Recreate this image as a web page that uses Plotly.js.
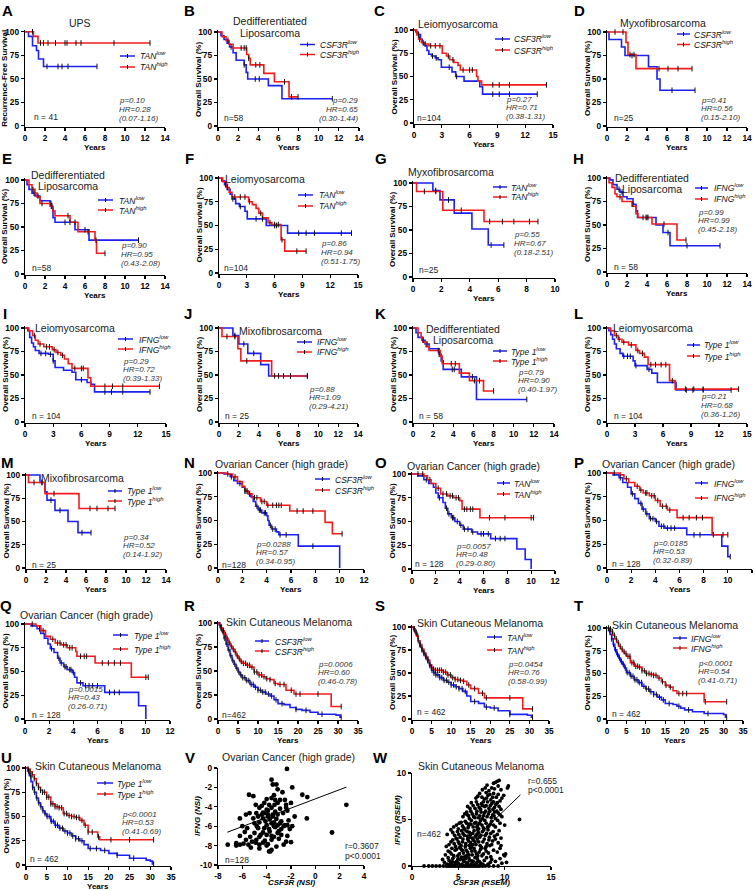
<!DOCTYPE html>
<html><head><meta charset="utf-8">
<script src="https://cdn.plot.ly/plotly-3.0.1.min.js"></script>
<style>body{margin:0;background:#fff}#chart{width:755px;height:890px}</style>
</head><body><div id="chart"></div>
<script>
// ---------------- DATA (Kaplan-Meier steps: time in years, survival %) ----------------
const A_lo_t=[0,0.35,0.75,1.15,1.35,1.85,7.2], A_lo_s=[100,95,85,80,71,63,63], A_lo_c=[2.2,3.3,3.7,4.3,7.2];
const A_hi_t=[0,0.85,1.3,12.5], A_hi_s=[100,95,88,88], A_hi_c=[0.75,1.55,1.85,2.3,3.05,4.0,4.2,5.1,5.6,8.9,12.5];
const B_lo_t=[0,0.3,0.6,0.9,1.15,1.5,1.8,2.6,2.8,2.95,5.0,6.35,11.35], B_lo_s=[100,96,92,88,84,78,70,65,57,50,43,29,29], B_lo_c=[1.3,2.6,3.7,4.1,11.35];
const B_hi_t=[0,0.4,0.8,1.1,1.5,2.85,3.05,3.2,4.55,5.6,7.05,7.95], B_hi_s=[100,95,91,87,83,76,72,65,56,47,31,31], B_hi_c=[1.0,2.3,2.6,2.8,3.05,3.75,4.15,6.6,7.3,7.95];
const C_lo_t=[0,0.2,0.4,0.7,0.9,1.2,1.4,1.6,1.9,2.3,2.6,2.95,4.1,4.5,5.4,7.1,7.4,13.3], C_lo_s=[100,98,95,90,86,83,78,74,72,70,68,60,55,50,45,39,31,31], C_lo_c=[0.5,1.0,2.0,2.4,3.8,4.6,8.5,9.2,10.3,13.3];
const C_hi_t=[0,0.3,0.5,0.8,1.0,1.6,3.05,3.5,3.85,4.3,4.75,5.0,6.75,6.9,7.3,14.3], C_hi_s=[100,95,90,87,85,83,75,72,68,65,62,57,50,45,41,41], C_hi_c=[0.6,1.2,1.8,2.3,2.8,3.7,4.2,5.3,6.0,6.3,8.5,9.2,10.3,14.3];
const D_lo_t=[0,0.2,1.45,1.8,4.15,5.0,5.3,8.8], D_lo_s=[100,92,84,75,63,50,38,38], D_lo_c=[2.5,6.5,8.8];
const D_hi_t=[0,1.9,2.1,2.9,8.5], D_hi_s=[100,89,76,61,61], D_hi_c=[0.8,1.6,2.3,2.7,5.2,6.1,7.1,8.5];
const E_lo_t=[0,0.2,0.4,0.7,1.0,1.5,2.5,2.65,2.8,3.0,5.0,6.4,11.35], E_lo_s=[100,95,90,86,83,78,75,70,60,55,47,36,36], E_lo_c=[0.9,1.3,2.6,4.0,4.5,6.0,7.1,11.35];
const E_hi_t=[0,0.4,0.7,1.0,1.2,1.5,2.5,2.8,3.0,4.5,5.3,7.0,7.15,8.0], E_hi_s=[100,95,90,86,82,75,72,67,62,55,45,36,22,22], E_hi_c=[0.8,1.7,2.7,4.3,5.0,6.3,8.0];
const F_lo_t=[0,0.3,0.6,0.9,1.2,1.4,1.8,2.2,2.8,3.05,5.1,7.4,14.3], F_lo_s=[100,97,93,88,83,78,73,70,65,57,50,42,42], F_lo_c=[0.7,1.5,2.3,4.0,4.7,6.0,6.2,8.6,9.4,10.3,13.2,14.3];
const F_hi_t=[0,0.4,0.8,1.1,1.4,3.2,3.6,4.0,4.3,4.7,5.3,5.7,6.7,7.1,9.4], F_hi_s=[100,96,90,85,80,75,72,68,63,58,53,51,35,23,23], F_hi_c=[0.9,1.7,2.3,2.8,3.3,4.5,5.5,6.0,6.4,6.8,8.4,9.4];
const G_lo_t=[0,1.4,1.9,2.9,4.15,5.3,6.4], G_lo_s=[100,92,82,68,51,34,34], G_lo_c=[1.6,2.5,5.5,6.4];
const G_hi_t=[0,0.25,2.1,5.0,8.8], G_hi_s=[100,91,71,59,59], G_hi_c=[0.8,1.6,3.4,5.4,6.3,7.1,8.2,8.8];
const H_lo_t=[0,0.3,0.6,1.0,1.3,1.6,2.0,2.6,2.9,3.05,4.9,5.6,6.3,11.3], H_lo_s=[100,98,93,88,85,80,78,72,65,58,50,42,28,28], H_lo_c=[1.2,1.5,2.6,3.9,4.1,6.1,8.0,11.3];
const H_hi_t=[0,0.2,0.5,0.8,1.0,1.5,2.5,2.9,3.1,4.5,7.0,7.9], H_hi_s=[100,95,90,83,80,75,70,62,58,51,34,34], H_hi_c=[1.3,3.6,4.0,5.7,7.9];
const I_lo_t=[0,0.3,0.5,0.7,0.9,1.1,1.5,2.5,3.0,3.2,4.1,5.0,5.4,6.6,7.0,7.4,13.3], I_lo_s=[100,97,90,84,80,76,73,72,65,58,55,53,45,42,40,32,32], I_lo_c=[1.7,2.2,2.7,3.0,6.0,8.5,9.2,10.4,13.3];
const I_hi_t=[0,0.4,0.8,1.1,1.4,2.0,2.9,3.3,3.8,4.2,4.6,5.0,6.7,7.0,14.3], I_hi_s=[100,97,92,87,83,80,77,74,71,67,62,57,47,38,38], I_hi_c=[1.0,1.6,2.3,2.6,3.1,3.5,4.0,5.3,6.0,6.2,8.5,9.3,10.4,14.3];
const J_lo_t=[0,1.4,2.0,2.9,4.2,5.0,8.9], J_lo_s=[100,92,83,73,61,49,49], J_lo_c=[1.6,2.5,3.5,5.6,6.5,7.2,8.9];
const J_hi_t=[0,0.3,1.9,2.2,5.3,8.9], J_hi_s=[100,91,78,65,49,49], J_hi_c=[0.8,1.6,2.8,6.0,7.2,8.9];
const K_lo_t=[0,0.3,0.5,0.9,1.2,1.6,2.6,2.8,3.0,4.8,6.3,11.3], K_lo_s=[100,95,90,87,83,78,72,65,56,48,24,24], K_lo_c=[1.0,1.4,2.6,3.9,4.1,5.9,11.3];
const K_hi_t=[0,0.5,0.8,1.0,1.3,1.6,2.7,2.9,4.6,5.6,7.0,8.0], K_hi_s=[100,95,90,85,80,76,70,62,52,44,33,33], K_hi_c=[2.5,3.8,4.2,6.1,6.6,8.0];
const L_lo_t=[0,0.2,0.4,0.6,0.8,1.0,1.4,1.7,2.8,3.0,4.3,4.8,5.4,7.4,13.3], L_lo_s=[100,97,93,88,83,78,73,70,65,60,56,52,42,34,34], L_lo_c=[1.8,2.2,2.5,3.1,4.5,8.5,9.2,10.3,13.3];
const L_hi_t=[0,0.4,0.8,1.2,1.6,2.3,3.1,3.5,4.0,4.4,6.7,7.3,14.1], L_hi_s=[100,97,92,88,85,82,76,73,69,61,44,35,35], L_hi_c=[1.0,1.3,1.8,2.6,3.3,3.8,4.7,5.2,5.8,6.3,7.0,8.4,9.3,10.3,14.1];
const M_lo_t=[0,1.4,1.9,2.1,2.9,4.2,5.2,6.5], M_lo_s=[100,92,82,73,62,50,38,38], M_lo_c=[1.6,2.5,3.4,5.6,6.5];
const M_hi_t=[0,0.25,1.9,5.3,8.9], M_hi_s=[100,92,80,64,64], M_hi_c=[0.8,1.6,2.8,6.4,7.1,8.2,8.9];
const N_lo_t=[0,0.5,1.0,1.3,1.6,2.0,2.2,2.5,2.7,2.9,3.1,3.3,3.6,4.0,4.1,4.2,4.4,4.8,5.0,6.6,10.0], N_lo_s=[100,99,96,92,89,85,81,78,75,70,65,61,58,55,50,45,41,38,35,23,0], N_lo_c=[1.1,1.8,2.2,2.4,2.6,3.2,3.4,3.5,3.8,3.9,4.3,4.5,4.7,5.1,5.6,7.8];
const N_hi_t=[0,0.7,1.2,1.6,2.0,2.2,2.5,2.8,3.5,4.0,5.9,8.8,9.4,10.2], N_hi_s=[100,99,96,91,86,81,78,74,70,66,60,48,36,36], N_hi_c=[0.8,1.4,2.3,2.6,3.0,3.2,3.6,3.8,4.1,4.5,4.8,5.0,5.2,6.5,7.0,7.8,10.2];
const O_lo_t=[0,0.5,1.0,1.4,1.8,2.0,2.2,2.6,2.8,3.0,3.3,3.6,4.0,4.3,5.0,5.5,6.6,8.8,9.5,10.0], O_lo_s=[100,98,94,90,86,80,75,70,64,58,54,50,46,42,39,37,32,21,10,0], O_lo_c=[1.2,2.3,2.9,3.1,3.4,3.5,3.8,4.1,4.4,4.7,5.1,5.8,6.0,6.4,7.0,7.4,7.8];
const O_hi_t=[0,1.0,1.3,1.6,2.0,2.4,3.0,3.5,4.0,4.2,5.7,10.2], O_hi_s=[100,98,94,90,85,79,77,75,72,63,54,54], O_hi_c=[0.5,0.9,1.5,2.2,2.6,2.9,3.2,3.4,3.7,3.9,4.4,4.6,4.9,5.1,6.5,7.8,10.0,10.2];
const P_lo_t=[0,0.5,1.0,1.3,1.7,2.0,2.3,2.6,2.9,3.2,3.5,4.0,4.3,4.8,6.6,9.5,10.0,10.2], P_lo_s=[100,98,95,90,85,78,73,68,62,57,52,49,44,42,35,23,12,12], P_lo_c=[1.1,2.1,2.8,3.0,3.3,3.6,3.8,4.1,4.5,4.7,5.0,5.3,5.6,7.2,7.7,8.8,10.2];
const P_hi_t=[0,1.1,1.4,1.8,2.3,2.7,3.0,3.5,4.0,4.4,5.0,5.8,8.7,10.0], P_hi_s=[100,98,94,90,86,82,79,76,71,65,61,53,35,35], P_hi_c=[0.6,1.6,2.5,2.8,3.2,3.3,3.7,3.9,4.2,4.6,4.9,5.2,6.3,6.8,7.4,7.9,9.6,10.0];
const Q_lo_t=[0,0.5,1.0,1.3,1.6,1.9,2.1,2.4,2.7,2.9,3.2,3.5,3.9,4.1,4.3,4.8,6.6,9.4,10.0], Q_lo_s=[100,98,95,90,85,79,74,70,64,59,55,52,49,44,38,35,28,14,0], Q_lo_c=[1.2,2.2,2.8,3.0,3.3,3.4,3.7,3.8,4.0,4.6,5.0,5.3,5.6,6.0,7.0,7.4,7.8];
const Q_hi_t=[0,0.9,1.3,1.7,2.1,2.5,3.0,3.5,4.2,4.3,5.8,8.8,10.2], Q_hi_s=[100,98,93,87,84,80,78,75,71,66,59,44,44], Q_hi_c=[0.6,1.5,2.3,2.7,2.9,3.2,3.4,3.7,3.9,4.6,4.9,5.1,6.4,6.9,7.4,7.9,10.0,10.2];
const R_lo_t=[0,0.3,0.6,1,1.5,2,2.5,3,3.5,4,4.5,5,5.5,6,7,8,9,10,11,12,13,14,15,16.5,18,19.5,21,23,25,29.5,30.5,30.8], R_lo_s=[100,98,95,91,84,78,72,66,61,57,53,49,46,43,40,36,33,30,28,26,24,20,16,15,12,10,9,7,5,4,2,2];
const R_lo_c=[0.7,1.2,1.7,2.2,2.7,3.2,3.7,4.2,4.7,5.2,5.7,6.2,6.7,7.2,7.7,8.3,8.8,9.4,10,10.6,11.2,11.8,12.6,13.4,14.5,16,19.5,22,26,30.8];
const R_hi_t=[0,0.4,0.8,1.2,1.6,2,2.5,3,3.5,4,4.5,5,5.5,6,7,8,9,10,11,12,13,14,15,17,19,28.3,30.8], R_hi_s=[100,98,95,92,88,84,80,76,73,70,66,63,60,58,56,54,49,46,44,42,41,37,36,30,26,13,13];
const R_hi_c=[0.5,0.9,1.4,1.9,2.3,2.8,3.3,3.8,4.3,4.8,5.3,5.8,6.4,6.9,7.4,7.9,8.5,9.1,9.7,10.3,10.9,11.5,12.2,13,14.3,15.5,16.5,18.3,19.5,20.5,25,30.8];
const S_lo_t=[0,0.4,0.8,1.2,1.6,2,2.5,3,3.5,4,4.5,5,5.5,6,7,8,9,10,11,12,13,14,15,17,18.5,20,22,25,29.5,30.5,30.8], S_lo_s=[100,98,94,90,85,80,75,71,67,63,58,53,50,48,45,42,40,37,35,33,30,25,19,17,13,12,9,5,4,2,2];
const S_lo_c=[0.6,1.1,1.6,2.1,2.6,3.1,3.6,4.1,4.6,5.1,5.6,6.1,6.6,7.1,7.6,8.2,8.8,9.4,10,10.6,11.3,12,12.8,13.6,16,19,21,25,30.8];
const S_hi_t=[0,0.4,0.8,1.2,1.6,2,2.5,3,3.5,4,4.5,5,5.5,6,7,8,9,10,11,12,13,14,15,17,18.5,28.3,30.8], S_hi_s=[100,98,94,90,85,81,76,72,68,64,59,56,54,53,53,51,48,45,43,42,41,37,33,28,23,11,11];
const S_hi_c=[0.5,1.0,1.5,2.0,2.5,3.0,3.5,4.0,4.5,5.0,5.5,6.0,6.5,7.0,7.5,8.0,8.6,9.2,9.8,10.4,11,11.7,12.4,13.2,14.5,16,18,19,25,30.8];
const T_lo_t=[0,0.4,0.8,1.2,1.6,2,2.5,3,3.5,4,4.5,5,6,7,8,9,10,11,12,13,14,15,17,18,19,20,22,25,30,30.5,30.8], T_lo_s=[100,97,93,88,82,76,71,67,63,60,56,51,47,43,40,36,33,30,27,24,21,17,16,14,12,10,8,6,5,2,2];
const T_lo_c=[0.7,1.2,1.7,2.2,2.7,3.2,3.7,4.2,4.7,5.2,5.7,6.2,6.7,7.2,7.7,8.3,8.9,9.5,10.1,10.7,11.3,12,12.7,13.5,14.5,16,18.5,21,26,30.8];
const T_hi_t=[0,0.5,1,1.5,2,2.5,3,3.5,4,4.5,5,6,7,8,9,10,11,12,13,14,15,16,17,18,25,30.8], T_hi_s=[100,99,96,92,88,84,80,77,74,72,69,62,58,57,53,50,49,48,45,41,37,35,31,28,19,19];
const T_hi_c=[0.4,0.9,1.4,1.9,2.4,2.9,3.4,3.9,4.4,4.9,5.4,5.9,6.4,6.9,7.4,7.9,8.4,9,9.6,10.2,10.8,11.4,12,12.6,13.4,14.3,15.2,16.3,18.5,19.5,20.5,25.3,30.8];
const U_lo_t=[0,0.4,0.8,1.2,1.6,2,2.5,3,3.5,4,4.5,5,6,7,8,9,10,11,12,13,14,15,18,20,22,25,29,30,30.5,30.8], U_lo_s=[100,97,92,86,80,75,69,64,60,56,53,50,45,41,38,35,33,30,27,25,21,17,15,12,10,7,5,4,1,1];
const U_lo_c=[0.6,1.1,1.6,2.1,2.6,3.1,3.6,4.1,4.6,5.1,5.6,6.1,6.6,7.1,7.6,8.2,8.8,9.4,10,10.6,11.3,12,12.7,13.5,15.5,17,19,22,26,30.8];
const U_hi_t=[0,0.5,1,1.5,2,2.5,3,3.5,4,5,6,7,8,9,10,11,12,13,14,15,17.3,17.8,30.8], U_hi_s=[100,99,96,93,89,84,80,77,75,70,63,60,59,53,51,50,49,46,41,34,29,26,26];
const U_hi_c=[0.5,1.0,1.5,2.0,2.5,3.0,3.5,4.0,4.5,5.0,5.5,6.0,6.5,7.0,7.5,8.0,8.6,9.2,9.8,10.4,11,11.6,12.2,12.8,13.5,14.3,15,16,17.5,20.5,25,30.8];

// Scatter V: CSF3R (NSI) vs IFNG (NSI), ovarian, n=128
const V_x=[-2.33,-3.6,-3.5,-3.2,-1.9,-3.1,-5.45,-5.1,-1.07,-0.66,
 -3.6,-2.9,-2.5,2.55,-4.2,-3.8,-3.35,-3.1,-2.4,-2.4,
 -4.6,-4.0,-3.6,-4.2,-4.85,-5.4,-4.4,-3.9,-3.5,-3.1,
 -2.65,-0.7,-6.2,-5.1,-4.3,-3.75,-3.2,-2.8,-5.0,-4.6,
 -4.0,-3.6,-3.1,-2.5,-2.3,-4.7,-4.2,-3.3,-2.8,-2.1,
 -5.8,-5.0,-4.3,-3.75,-3.1,1.37,-6.2,-5.35,-4.6,-4.0,
 -3.4,-2.8,-2.3,-5.7,-4.85,-4.15,-3.6,-2.4,-2.0,-6.5,
 -7.2,-6.2,-5.5,-4.6,-3.9,-3.2,-3.6,-3.7,-4.6,-5.3,
 -4.4,-3.9,-3.3,-4.7,-3.5,-2.9,-4.1,-3.4,-4.8,-3.8,
 -2.6,-5.6,-4.5,-3.6,-3.0,-5.2,-4.3,-3.9,-2.3,-2.0,
 -2.7,-3.4,-4.0,-4.9,-5.7,-6.0,-1.9,-1.7,-2.2,-3.3,
 -4.3,-3.0,-2.6,-4.0,-4.9,-6.5,-5.9,-3.8,-3.4,-2.9];
const V_y=[-0.1,-1.2,-1.7,-1.7,-2.0,-2.2,-2.76,-2.9,-2.76,-3.0,
 -3.1,-3.3,-3.3,-3.8,-3.6,-3.8,-3.8,-3.6,-3.8,-4.1,
 -4.1,-4.3,-4.1,-4.65,-4.65,-4.65,-4.8,-4.8,-4.8,-4.8,
 -4.65,-5.2,-5.2,-5.2,-5.2,-5.3,-5.25,-5.5,-5.7,-5.6,
 -5.9,-5.7,-5.9,-5.9,-5.9,-6.2,-6.2,-6.1,-6.3,-6.3,
 -6.6,-6.7,-6.65,-6.55,-6.7,-6.65,-7.0,-7.1,-7.1,-6.9,
 -7.1,-6.9,-7.0,-7.4,-7.4,-7.5,-7.4,-7.6,-7.65,-7.75,
 -7.9,-7.9,-7.9,-7.9,-7.85,-8.1,-8.45,-8.6,-8.3,-8.2,
 -3.9,-4.4,-4.5,-5.0,-5.0,-4.2,-5.5,-5.6,-6.0,-6.3,
 -6.0,-6.2,-6.9,-7.0,-7.3,-7.6,-7.7,-5.0,-4.4,-3.6,
 -2.5,-2.8,-3.2,-3.8,-4.8,-6.0,-6.0,-5.0,-5.4,-3.3,
 -4.6,-6.5,-7.9,-8.0,-7.7,-8.0,-7.8,-8.6,-6.0,-5.7];
const V_fitX=[-7.23,2.55], V_fitY=[-6.62,-1.97];

// Scatter W: CSF3R (RSEM) vs IFNG (RSEM), melanoma, n=462
const W_x=[1.3,1.8,2.2,2.6,3.0,3.4,3.7,3.9,4.1,4.3,4.5,4.7,4.9,5.1,5.3,5.5,5.7,5.9,6.1,6.3,6.5,6.7,6.9,7.1,7.3,7.6,7.9,8.3,8.8,9.3,
 3.5,3.8,4.0,4.2,4.4,4.6,4.8,5.0,5.2,5.4,5.6,5.8,6.0,6.2,6.4,6.6,6.8,7.0,7.4,7.8,8.2,9.0,9.5,10.2,8.6,
 3.6,4.1,4.5,4.8,5.1,5.4,5.7,6.0,6.3,6.5,6.8,7.1,7.4,7.7,8.0,8.5,9.2,9.9,10.1,5.9,4.3,
 4.0,4.4,4.7,5.0,5.3,5.5,5.8,6.1,6.4,6.6,6.9,7.2,7.5,7.8,8.1,8.4,8.7,9.3,5.1,6.2,
 4.2,4.6,4.9,5.2,5.5,5.7,6.0,6.2,6.5,6.7,7.0,7.3,7.6,7.9,8.2,8.5,8.9,9.4,9.6,6.3,7.1,
 4.8,5.3,5.6,5.9,6.1,6.4,6.6,6.9,7.1,7.4,7.7,8.0,8.3,8.6,9.0,9.5,10.0,5.0,7.2,6.2,
 5.5,5.9,6.2,6.5,6.8,7.0,7.3,7.6,7.8,8.1,8.4,8.7,9.0,9.3,9.7,11.6,6.0,8.9,
 6.0,6.4,6.8,7.1,7.4,7.7,8.0,8.3,8.6,8.9,9.2,9.6,7.6,8.8,
 6.9,7.3,7.8,8.2,8.5,8.8,9.1,9.5,9.9,8.0,
 7.6,8.1,8.6,9.0,9.3,9.4,10.3,8.8];
const W_y=[0,0,0,0,0,0,0,0,0,0,0,0,0,0,0,0,0,0,0,0,0,0,0,0,0,0,0,0,0,0,
 0.4,0.2,0.6,0.3,0.8,0.1,0.5,0.3,0.7,0.2,0.5,0.8,0.3,0.6,0.2,0.5,0.9,0.4,0.3,0.6,0.2,0.5,0.8,0.4,0.7,
 1.2,1.5,1.1,1.8,1.3,1.7,1.0,1.5,1.9,1.2,1.6,1.1,1.8,1.3,1.6,1.0,1.5,1.2,1.3,1.1,1.9,
 2.3,2.8,2.1,2.6,2.2,2.9,2.4,2.7,2.1,2.8,2.3,2.6,2.0,2.9,2.4,2.2,2.7,2.5,2.4,2.2,
 3.9,3.3,3.7,3.1,3.5,3.9,3.2,3.6,3.0,3.8,3.4,3.1,3.7,3.3,3.9,3.5,3.2,3.8,3.0,3.4,3.9,
 4.4,4.7,4.1,4.6,4.3,4.9,4.2,4.7,4.4,4.9,4.1,4.6,4.3,4.8,4.2,4.6,4.4,4.0,4.0,4.5,
 5.3,5.8,5.1,5.6,5.2,5.9,5.4,5.1,5.7,5.3,5.9,5.5,5.1,5.7,5.3,5.0,5.5,5.8,
 6.4,6.8,6.2,6.6,6.1,6.9,6.5,6.2,6.7,6.3,6.8,6.1,6.5,6.9,
 7.3,7.8,7.2,7.6,7.1,7.8,7.4,7.0,7.6,7.9,
 8.2,8.7,8.4,9.0,8.6,9.2,8.4,8.9];
const W_x2=[4.05,4.35,4.65,4.95,5.25,5.55,5.85,6.15,6.45,6.75,7.05,7.25,7.65,8.05,8.45,3.3,3.9,5.35,6.95,9.7,
 3.9,4.25,4.65,4.95,5.25,5.55,5.85,6.15,6.45,6.7,6.95,7.25,7.55,7.9,8.25,8.8,9.5,10.0,
 4.2,4.55,4.85,5.15,5.45,5.75,6.0,6.3,6.55,6.8,7.05,7.35,7.65,8.0,8.3,8.6,9.0,9.6,3.7,
 4.4,4.75,5.05,5.35,5.65,5.95,6.25,6.55,6.85,7.15,7.45,7.75,8.05,8.35,8.75,9.2,3.8,
 5.1,5.45,5.75,6.05,6.35,6.75,7.0,7.3,7.55,7.85,8.15,8.45,8.8,9.25,4.5,
 5.7,6.1,6.35,6.65,6.95,7.2,7.45,7.7,7.95,8.25,8.55,8.85,9.15,9.5,
 6.25,6.6,6.95,7.25,7.5,7.85,8.15,8.45,8.75,9.05,9.4,7.1,7.55,8.05,8.4,8.7,9.3,9.7,
 8.3,8.9,9.6,10.4,7.9,9.2];
const W_y2=[0.15,0.45,0.35,0.75,0.1,0.65,0.35,0.85,0.55,0.15,0.75,0.5,0.2,0.9,0.4,0.7,0.9,0.95,0.95,0.3,
 1.6,1.3,1.7,1.1,1.9,1.4,1.7,1.2,1.6,1.9,1.3,1.5,1.1,1.9,1.4,1.7,1.9,1.1,
 2.6,2.4,2.9,2.0,2.6,2.1,2.9,2.5,2.3,2.6,2.9,2.2,2.6,2.1,2.8,2.3,2.9,2.2,2.1,
 3.6,3.0,3.4,3.8,3.3,3.7,3.1,3.5,3.2,3.6,3.3,3.9,3.5,3.1,3.7,3.4,3.4,
 4.6,4.3,4.8,4.1,4.5,4.6,4.2,4.6,4.4,4.9,4.2,4.5,4.4,4.9,4.2,
 5.6,5.4,5.9,5.3,5.6,5.2,5.8,5.4,5.9,5.6,5.2,5.4,5.9,5.5,
 6.2,6.5,6.9,6.3,6.7,6.4,6.9,6.5,6.1,6.6,6.4,7.5,7.4,7.3,7.7,7.4,7.7,7.3,
 8.1,8.3,8.2,8.6,8.4,9.1];
const W_fitX=[3.7,11.7], W_fitY=[0,7.65];

// ---------------- TEXT ----------------
const T_SARC_DD='Dedifferentiated<br>Liposarcoma', T_LEIO='Leiomyosarcoma', T_MYXO='Myxofibrosarcoma', T_MIXO='Mixofibrosarcoma';
const T_OVA='Ovarian Cancer (high grade)', T_SKCM='Skin Cutaneous Melanoma';
const A_stats=['p=0.10','HR=0.28','(0.07-1.16)'], B_stats=['p=0.29','HR=0.65','(0.30-1.44)'], C_stats=['p=0.27','HR=0.71','(0.38-1.31)'];
const D_stats=['p=0.41','HR=0.56','(0.15-2.10)'], E_stats=['p=0.90','HR=0.95','(0.43-2.08)'], F_stats=['p=0.86','HR=0.94','(0.51-1.75)'];
const G_stats=['p=0.55','HR=0.67','(0.18-2.51)'], H_stats=['p=0.99','HR=0.99','(0.45-2.18)'], I_stats=['p=0.29','HR=0.72','(0.39-1.33)'];
const J_stats=['p=0.88','HR=1.09','(0.29-4.21)'], K_stats=['p=0.79','HR=0.90','(0.40-1.97)'], L_stats=['p=0.21','HR=0.68','(0.36-1.26)'];
const M_stats=['p=0.34','HR=0.52','(0.14-1.92)'], N_stats=['p=0.0288','HR=0.57','(0.34-0.95)'], O_stats=['p=0.0057','HR=0.48','(0.29-0.80)'];
const P_stats=['p=0.0185','HR=0.53','(0.32-0.89)'], Q_stats=['p=0.0015','HR=0.43','(0.26-0.71)'], R_stats=['p=0.0006','HR=0.60','(0.46-0.78)'];
const S_stats=['p=0.0454','HR=0.76','(0.58-0.99)'], T_stats=['p<0.0001','HR=0.54','(0.41-0.71)'], U_stats=['p<0.0001','HR=0.53','(0.41-0.69)'];
const V_stats=['r=0.3607','p<0.0001'], W_stats=['r=0.655','p<0.0001'];

// ---------------- LAYOUT CONFIG ----------------
const FONT='"Liberation Sans", Arial, sans-serif';
const WID=755, HEI=890;
const BLUE='#1c22f0', RED='#f01c1c';
const KM=[
 {L:'A',g:[25,165,31.7,125.7],xm:14,dx:2,lo:[A_lo_t,A_lo_s,A_lo_c],hi:[A_hi_t,A_hi_s,A_hi_c],gene:'TAN',yt:'Recurrence-Free Survival',ti:['UPS',80,23],leg:[120,135,56,67,138],st:[A_stats,118,100.5,'left'],n:['n = 41',32,117],lp:[7,10]},
 {L:'B',g:[218,359,32,126],xm:14,dx:2,lo:[B_lo_t,B_lo_s,B_lo_c],hi:[B_hi_t,B_hi_s,B_hi_c],gene:'CSF3R',ti:[T_SARC_DD,270,27],leg:[300,315,44.5,54.5,318],st:[B_stats,359,100.5,'right'],n:['n=58',222,118],lp:[189,10]},
 {L:'C',g:[414,553,30,123],xm:15,dx:3,lo:[C_lo_t,C_lo_s,C_lo_c],hi:[C_hi_t,C_hi_s,C_hi_c],gene:'CSF3R',ti:[T_LEIO,458,24],leg:[495,510,39,50,512],st:[C_stats,505,99,'left'],n:['n=104',415,118],lp:[379,10]},
 {L:'D',g:[607,747,32,126],xm:14,dx:2,lo:[D_lo_t,D_lo_s,D_lo_c],hi:[D_hi_t,D_hi_s,D_hi_c],gene:'CSF3R',ti:[T_MYXO,663,23],leg:[677,690,34,44.5,692],st:[D_stats,700,100,'left'],n:['n=25',612,118],lp:[579,10]},
 {L:'E',g:[25,165,180,274],xm:14,dx:2,lo:[E_lo_t,E_lo_s,E_lo_c],hi:[E_hi_t,E_hi_s,E_hi_c],gene:'TAN',ti:[T_SARC_DD,68,180.5],leg:[98,113,200,210,117],st:[E_stats,120,245.5,'left'],n:['n=58',30,268],lp:[7,158]},
 {L:'F',g:[219,358,178,273],xm:15,dx:3,lo:[F_lo_t,F_lo_s,F_lo_c],hi:[F_hi_t,F_hi_s,F_hi_c],gene:'TAN',ti:[T_LEIO,265,179],leg:[298,313,195,206,317],st:[F_stats,320,244,'left'],n:['n=104',222,268],lp:[189,158]},
 {L:'G',g:[413,555,183,277],xm:10,dx:2,lo:[G_lo_t,G_lo_s,G_lo_c],hi:[G_hi_t,G_hi_s,G_hi_c],gene:'TAN',ti:[T_MYXO,451,172],leg:[493,507,187,197,509],st:[G_stats,513,235,'left'],n:['n=25',417,270],lp:[381,158]},
 {L:'H',g:[607,747,178,272],xm:14,dx:2,lo:[H_lo_t,H_lo_s,H_lo_c],hi:[H_hi_t,H_hi_s,H_hi_c],gene:'IFNG',ti:[T_SARC_DD,652,183.5],leg:[695,708,188,199,712],st:[H_stats,697,212,'left'],n:['n = 58',612,267],lp:[578,158]},
 {L:'I',g:[25,166,328,422],xm:15,dx:3,lo:[I_lo_t,I_lo_s,I_lo_c],hi:[I_hi_t,I_hi_s,I_hi_c],gene:'IFNG',ti:[T_LEIO,75,328],leg:[118,133,339,349,137],st:[I_stats,122,361,'left'],n:['n = 104',30,416],lp:[5,314]},
 {L:'J',g:[219,358,328,422],xm:14,dx:2,lo:[J_lo_t,J_lo_s,J_lo_c],hi:[J_hi_t,J_hi_s,J_hi_c],gene:'IFNG',ti:[T_MIXO,280,331],leg:[297,312,342,352,315],st:[J_stats,308,389,'left'],n:['n = 25',223,416],lp:[188,314]},
 {L:'K',g:[413,554,328,422],xm:14,dx:2,lo:[K_lo_t,K_lo_s,K_lo_c],hi:[K_hi_t,K_hi_s,K_hi_c],gene:'Type 1',ti:[T_SARC_DD,463,334.5],leg:[493,507,351,361,509],st:[K_stats,517,372,'left'],n:['n = 58',417,416],lp:[380,314]},
 {L:'L',g:[607,747,328,422],xm:15,dx:3,lo:[L_lo_t,L_lo_s,L_lo_c],hi:[L_hi_t,L_hi_s,L_hi_c],gene:'Type 1',ti:[T_LEIO,653,328],leg:[687,700,345,356,702],st:[L_stats,700,397,'left'],n:['n = 104',612,416],lp:[578,314]},
 {L:'M',g:[26,166,475,568],xm:14,dx:2,lo:[M_lo_t,M_lo_s,M_lo_c],hi:[M_hi_t,M_hi_s,M_hi_c],gene:'Type 1',ti:[T_MIXO,82,478],leg:[108,122,491,501,125],st:[M_stats,122,537,'left'],n:['n = 25',30,565],lp:[7,463]},
 {L:'N',g:[218,364,473,568],xm:12,dx:2,lo:[N_lo_t,N_lo_s,N_lo_c],hi:[N_hi_t,N_hi_s,N_hi_c],gene:'CSF3R',ti:[T_OVA,281,464],leg:[315,330,479,490,333],st:[N_stats,255,544,'left'],n:['n=128',220,565],lp:[189,463]},
 {L:'O',g:[412,555,474,569],xm:12,dx:2,lo:[O_lo_t,O_lo_s,O_lo_c],hi:[O_hi_t,O_hi_s,O_hi_c],gene:'TAN',ti:[T_OVA,473,466],leg:[497,510,483,494,512],st:[O_stats,455,546,'left'],n:['n = 128',413,564],lp:[381,463]},
 {L:'P',g:[607,752,473,568],xm:12,dx:2,lo:[P_lo_t,P_lo_s,P_lo_c],hi:[P_hi_t,P_hi_s,P_hi_c],gene:'IFNG',ti:[T_OVA,668,464],leg:[695,708,483,498,712],st:[P_stats,652,543,'left'],n:['n = 128',610,564],lp:[579,463]},
 {L:'Q',g:[25,170,624,719],xm:12,dx:2,lo:[Q_lo_t,Q_lo_s,Q_lo_c],hi:[Q_hi_t,Q_hi_s,Q_hi_c],gene:'Type 1',ti:[T_OVA,86,615],leg:[113,128,635,649,132],st:[Q_stats,67,689,'left'],n:['n = 128',30,715],lp:[6,605]},
 {L:'R',g:[218,358,623,719],xm:35,dx:5,lo:[R_lo_t,R_lo_s,R_lo_c],hi:[R_hi_t,R_hi_s,R_hi_c],gene:'CSF3R',ti:[T_SKCM,289,622],leg:[255,269,641,651,273],st:[R_stats,317,664,'left'],n:['n=462',220,715],lp:[189,605]},
 {L:'S',g:[412,549,627,719],xm:35,dx:5,lo:[S_lo_t,S_lo_s,S_lo_c],hi:[S_hi_t,S_hi_s,S_hi_c],gene:'TAN',ti:[T_SKCM,480,623],leg:[487,502,637,650,505],st:[S_stats,507,664,'left'],n:['n = 462',415,712],lp:[380,605]},
 {L:'T',g:[607,743,628,719],xm:35,dx:5,lo:[T_lo_t,T_lo_s,T_lo_c],hi:[T_hi_t,T_hi_s,T_hi_c],gene:'IFNG',ti:[T_SKCM,675,625],leg:[673,687,638,648,689],st:[T_stats,697,663,'left'],n:['n = 462',610,714],lp:[578,605]},
 {L:'U',g:[26,171,768,865],xm:35,dx:5,lo:[U_lo_t,U_lo_s,U_lo_c],hi:[U_hi_t,U_hi_s,U_hi_c],gene:'Type 1',ti:[T_SKCM,98,766],leg:[97,113,783,794,115],st:[U_stats,121,814,'left'],n:['n = 462',28,859],lp:[6,757]}
];

// ---------------- BUILD ----------------
const data=[], annotations=[], shapes=[];
const layout={width:WID,height:HEI,margin:{l:0,r:0,t:0,b:0,pad:0},paper_bgcolor:'#fff',plot_bgcolor:'rgba(0,0,0,0)',
  showlegend:false,font:{family:FONT,color:'#000'},annotations,shapes,hovermode:false};
const px=x=>x/WID, py=y=>1-y/HEI;
function ann(x,y,text,o){annotations.push(Object.assign({xref:'paper',yref:'paper',x:px(x),y:py(y),text,showarrow:false,
  xanchor:'center',yanchor:'middle',font:{family:FONT,size:8,color:'#000'}},o||{}));}
function titleAnn(x,y,text){
  const lines=text.split('<br>'), gap=11;
  lines.forEach((t,j)=>ann(x,y+(j-(lines.length-1)/2)*gap,t,{font:{family:FONT,size:10.5,color:'#222'}}));
}
function survAt(t,s,x){let v=s[0];for(let i=0;i<t.length;i++){if(t[i]<=x+1e-9)v=s[i];}return v;}
function ticks(a,b,d){const r=[];for(let v=a;v<=b+1e-9;v+=d)r.push(+v.toFixed(6));return r;}
const axBase={showline:true,linecolor:'#000',linewidth:1.3,ticks:'outside',ticklen:3,tickwidth:1.2,tickcolor:'#000',
  showgrid:false,zeroline:false,fixedrange:true,tickmode:'array',tickfont:{family:FONT,size:8.3,weight:'bold',color:'#000'}};
function addAxes(k,g,xv,xr,xt,yv,yr,yt){
  const sx=(g[1]-g[0])/(xv[1]-xv[0]), sy=(g[3]-g[2])/(yv[0]-yv[1]);
  const pxx=v=>g[0]+(v-xv[0])*sx, pyy=v=>g[3]-(v-yv[1])*sy;
  layout['xaxis'+k]=Object.assign({},axBase,{domain:[px(pxx(xr[0])),px(pxx(xr[1]))],range:xr,anchor:'y'+k,
    tickvals:xt,ticktext:xt.map(String)});
  layout['yaxis'+k]=Object.assign({},axBase,{domain:[py(pyy(yr[0])),py(pyy(yr[1]))],range:yr,anchor:'x'+k,
    tickvals:yt,ticktext:yt.map(String)});
}

KM.forEach((p,i)=>{
  const k=i+1, xa='x'+k, ya='y'+k;
  addAxes(k,p.g,[0,p.xm],[0,p.xm],ticks(0,p.xm,p.dx),[100,0],[-1,102],[0,25,50,75,100]);
  [[p.lo,BLUE],[p.hi,RED]].forEach(([c,col])=>{
    data.push({x:c[0],y:c[1],xaxis:xa,yaxis:ya,mode:'lines',line:{shape:'hv',color:col,width:1.6},hoverinfo:'skip'});
  });
  [[p.lo,BLUE],[p.hi,RED]].forEach(([c])=>{
    data.push({x:c[2],y:c[2].map(v=>survAt(c[0],c[1],v)),xaxis:xa,yaxis:ya,mode:'markers',cliponaxis:false,
      marker:{symbol:'line-ns',size:4,line:{width:1,color:'#111'}},hoverinfo:'skip'});
  });
  const g=p.g;
  ann((g[0]+g[1])/2,Math.round(g[3])+21.5,'Years',{borderpad:0,font:{family:FONT,size:8,weight:'bold',color:'#000'}});
  ann(g[0]-20,(g[2]+g[3])/2,p.yt||'Overall Survival (%)',{textangle:-90,font:{family:FONT,size:8,weight:'bold',color:'#000'}});
  titleAnn(p.ti[1],p.ti[2],p.ti[0]);
  ann(p.lp[0],p.lp[1],p.L,{font:{family:FONT,size:15,weight:'bold',color:'#000'}});
  const lg=p.leg;
  [[lg[2],BLUE,'low'],[lg[3],RED,'high']].forEach(([y,col,sup])=>{
    shapes.push({type:'line',xref:'paper',yref:'paper',x0:px(lg[0]),x1:px(lg[1]),y0:py(y),y1:py(y),line:{color:col,width:1.5}});
    const mx=(lg[0]+lg[1])/2;
    shapes.push({type:'line',xref:'paper',yref:'paper',x0:px(mx),x1:px(mx),y0:py(y-2),y1:py(y+2),line:{color:'#111',width:1}});
    ann(lg[4],y,'<i>'+p.gene+'<sup>'+sup+'</sup></i>',{xanchor:'left',font:{family:FONT,size:8.5,color:'#111'}});
  });
  p.st[0].forEach((s,j)=>ann(p.st[1],p.st[2]+j*8.8,'<i>'+s+'</i>',{xanchor:p.st[3],borderpad:0,font:{family:FONT,size:8,color:'#333'}}));
  ann(p.n[1],p.n[2],p.n[0],{xanchor:'left',font:{family:FONT,size:8.5,color:'#222'}});
});

// Scatter V
let k=KM.length+1;
addAxes(k,[218,364,768,865],[-8,4],[-8,4],ticks(-8,4,2),[0,-10],[-10,0],ticks(-10,0,2));
data.push({x:V_x,y:V_y,xaxis:'x'+k,yaxis:'y'+k,mode:'markers',cliponaxis:false,marker:{size:4.8,color:'#000'},hoverinfo:'skip'});
data.push({x:V_fitX,y:V_fitY,xaxis:'x'+k,yaxis:'y'+k,mode:'lines',line:{color:'#000',width:1},hoverinfo:'skip'});
ann(291,882,'<i>CSF3R (NSI)</i>',{font:{family:FONT,size:8,weight:'bold',color:'#000'}});
ann(197,816,'<i>IFNG (NSI)</i>',{textangle:-90,font:{family:FONT,size:8,weight:'bold',color:'#000'}});
titleAnn(288,757,T_OVA);
ann(190,757,'V',{font:{family:FONT,size:15,weight:'bold',color:'#000'}});
V_stats.forEach((s,j)=>ann(343,846+j*10,s,{xanchor:'left',font:{family:FONT,size:8.5,color:'#222'}}));
ann(223,860,'n=128',{xanchor:'left',font:{family:FONT,size:8.5,color:'#222'}});

// Scatter W
k++;
addAxes(k,[412,551,773,866],[0,15],[0,15],[0,5,10,15],[10,0],[0,10],[0,5,10]);
data.push({x:W_fitX,y:W_fitY,xaxis:'x'+k,yaxis:'y'+k,mode:'lines',line:{color:'#000',width:1},hoverinfo:'skip'});
data.push({x:W_x.concat(W_x2),y:W_y.concat(W_y2),xaxis:'x'+k,yaxis:'y'+k,mode:'markers',cliponaxis:false,marker:{size:3.8,color:'#000'},hoverinfo:'skip'});
ann(481,882,'<i>CSF3R (RSEM)</i>',{font:{family:FONT,size:8,weight:'bold',color:'#000'}});
ann(397,820,'<i>IFNG (RSEM)</i>',{textangle:-90,font:{family:FONT,size:8,weight:'bold',color:'#000'}});
titleAnn(481,766,T_SKCM);
ann(381,757,'W',{font:{family:FONT,size:15,weight:'bold',color:'#000'}});
W_stats.forEach((s,j)=>ann(526,781+j*9,s,{xanchor:'left',font:{family:FONT,size:8.5,color:'#222'}}));
ann(415,834,'n=462',{xanchor:'left',font:{family:FONT,size:8.5,color:'#222'}});

Plotly.newPlot('chart',data,layout,{staticPlot:true,displayModeBar:false});
</script>
</body></html>
